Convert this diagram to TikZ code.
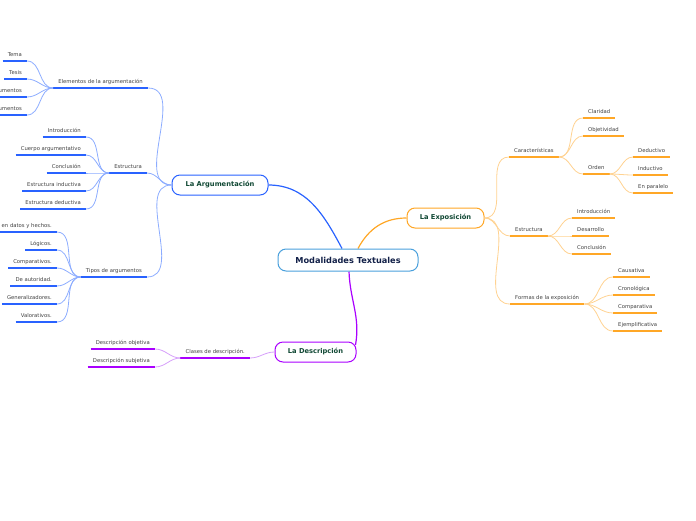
\documentclass[tikz,border=0pt]{standalone}
\usepackage{fontspec}
\setmainfont{DejaVu Sans}
\usetikzlibrary{calc,backgrounds}

\definecolor{argline}{RGB}{41,98,255}
\definecolor{argsoft}{RGB}{140,172,255}
\definecolor{expline}{RGB}{255,167,38}
\definecolor{expsoft}{RGB}{255,210,145}
\definecolor{desline}{RGB}{170,0,255}
\definecolor{dessoft}{RGB}{214,160,250}
\definecolor{modline}{RGB}{74,160,220}
\definecolor{maintext}{RGB}{16,72,52}
\definecolor{modtext}{RGB}{18,32,72}

\begin{document}
\begin{tikzpicture}[x=1pt,y=1pt,
  leaf/.style={font=\fontsize{5.3}{6}\selectfont,text=black!75,inner xsep=5pt,inner ysep=3.5pt,text height=4pt,text depth=1.2pt},
  topic/.style={draw=#1,line width=1pt,fill=white,rounded corners=8pt,font=\fontsize{6.7}{8}\selectfont\bfseries,text=maintext,minimum height=20pt,inner sep=0pt},
  ul/.style={line width=1.4pt},
  lk/.style={line width=0.8pt}]
  \clip (0,0) rectangle (696,-520);

  % main topics
  \node[topic=modline,minimum width=140pt,minimum height=22pt,font=\fontsize{8.2}{10}\selectfont\bfseries,text=modtext] (mod) at (348,-260) {Modalidades Textuales};
  \node[topic=argline,minimum width=96pt] (arg) at (220,-185) {La Argumentación};
  \node[topic=expline,minimum width=77pt] (exp) at (445.5,-218) {La Exposición};
  \node[topic=desline,minimum width=81pt] (des) at (315.5,-352) {La Descripción};
  \begin{scope}[on background layer]
    \draw[line width=1.2pt,argline] ($(mod.north)+(-6,0)$) to[out=118,in=0] (arg.east);
    \draw[line width=1.2pt,expline] ($(mod.north)+(10,0)$) to[out=62,in=180] (exp.west);
    \draw[line width=1.2pt,desline] ($(mod.south)+(1,0)$) to[out=-88,in=80] ($(des.east)+(-1,7)$);
  \end{scope}

  % la argumentacion
  \node[leaf,anchor=south east] (elem) at (148,-88) {Elementos de la argumentación};
  \node[leaf,anchor=south east] (aest) at (147,-173) {Estructura};
  \node[leaf,anchor=south east] (tipos) at (147,-277) {Tipos de argumentos};
  \foreach \n in {elem,aest,tipos}{
    \draw[lk,argsoft] (arg.west) to[out=180,in=0] (\n.south east);
    \draw[ul,argline] (\n.south west) -- (\n.south east);
  }
  \foreach \n/\y/\txt in {tema/61/Tema,tesis/79/Tesis,argu/97/Argumentos,contra/115/Contraargumentos}{
    \node[leaf,anchor=south east] (\n) at (27,-\y) {\txt};
    \draw[lk,argsoft] (elem.south west) to[out=180,in=0] (\n.south east);
    \draw[ul,argline] (\n.south west) -- (\n.south east);
  }
  \foreach \n/\y/\txt in {aintro/137/Introducción,cuerpo/155/Cuerpo argumentativo,aconcl/173/Conclusión,induc/191/Estructura inductiva,deduc/209/Estructura deductiva}{
    \node[leaf,anchor=south east] (\n) at (86,-\y) {\txt};
    \draw[lk,argsoft] (aest.south west) to[out=180,in=0] (\n.south east);
    \draw[ul,argline] (\n.south west) -- (\n.south east);
  }
  \foreach \n/\y/\txt in {datos/232/Basados en datos y hechos.,logic/250/Lógicos.,compa/268/Comparativos.,autor/286/De autoridad.,gener/304/Generalizadores.,valor/322/Valorativos.}{
    \node[leaf,anchor=south east] (\n) at (57,-\y) {\txt};
    \draw[lk,argsoft] (tipos.south west) to[out=180,in=0] (\n.south east);
    \draw[ul,argline] (\n.south west) -- (\n.south east);
  }

  % la descripcion
  \node[leaf,anchor=south east] (clases) at (250,-358) {Clases de descripción.};
  \draw[lk,dessoft] (des.west) to[out=180,in=0] (clases.south east);
  \draw[ul,desline] (clases.south west) -- (clases.south east);
  \foreach \n/\y/\txt in {objet/349/Descripción objetiva,subjet/367/Descripción subjetiva}{
    \node[leaf,anchor=south east] (\n) at (155,-\y) {\txt};
    \draw[lk,dessoft] (clases.south west) to[out=180,in=0] (\n.south east);
    \draw[ul,desline] (\n.south west) -- (\n.south east);
  }

  % la exposicion
  \node[leaf,anchor=south west] (carac) at (509,-157) {Características};
  \node[leaf,anchor=south west] (eest) at (510,-236) {Estructura};
  \node[leaf,anchor=south west] (formas) at (510,-304) {Formas de la exposición};
  \foreach \n in {carac,eest,formas}{
    \draw[lk,expsoft] (exp.east) to[out=0,in=180] (\n.south west);
    \draw[ul,expline] (\n.south west) -- (\n.south east);
  }
  \foreach \n/\y/\txt in {clar/118/Claridad,objv/136/Objetividad,orden/174/Orden}{
    \node[leaf,anchor=south west] (\n) at (583,-\y) {\txt};
    \draw[lk,expsoft] (carac.south east) to[out=0,in=180] (\n.south west);
    \draw[ul,expline] (\n.south west) -- (\n.south east);
  }
  \foreach \n/\y/\txt in {deduct/157/Deductivo,induct/175/Inductivo,parale/193/En paralelo}{
    \node[leaf,anchor=south west] (\n) at (633,-\y) {\txt};
    \draw[lk,expsoft] (orden.south east) to[out=0,in=180] (\n.south west);
    \draw[ul,expline] (\n.south west) -- (\n.south east);
  }
  \foreach \n/\y/\txt in {eintro/218/Introducción,desarr/236/Desarrollo,econcl/254/Conclusión}{
    \node[leaf,anchor=south west] (\n) at (572,-\y) {\txt};
    \draw[lk,expsoft] (eest.south east) to[out=0,in=180] (\n.south west);
    \draw[ul,expline] (\n.south west) -- (\n.south east);
  }
  \foreach \n/\y/\txt in {causa/277/Causativa,crono/295/Cronológica,ecomp/313/Comparativa,ejemp/331/Ejemplificativa}{
    \node[leaf,anchor=south west] (\n) at (613,-\y) {\txt};
    \draw[lk,expsoft] (formas.south east) to[out=0,in=180] (\n.south west);
    \draw[ul,expline] (\n.south west) -- (\n.south east);
  }
\end{tikzpicture}
\end{document}
